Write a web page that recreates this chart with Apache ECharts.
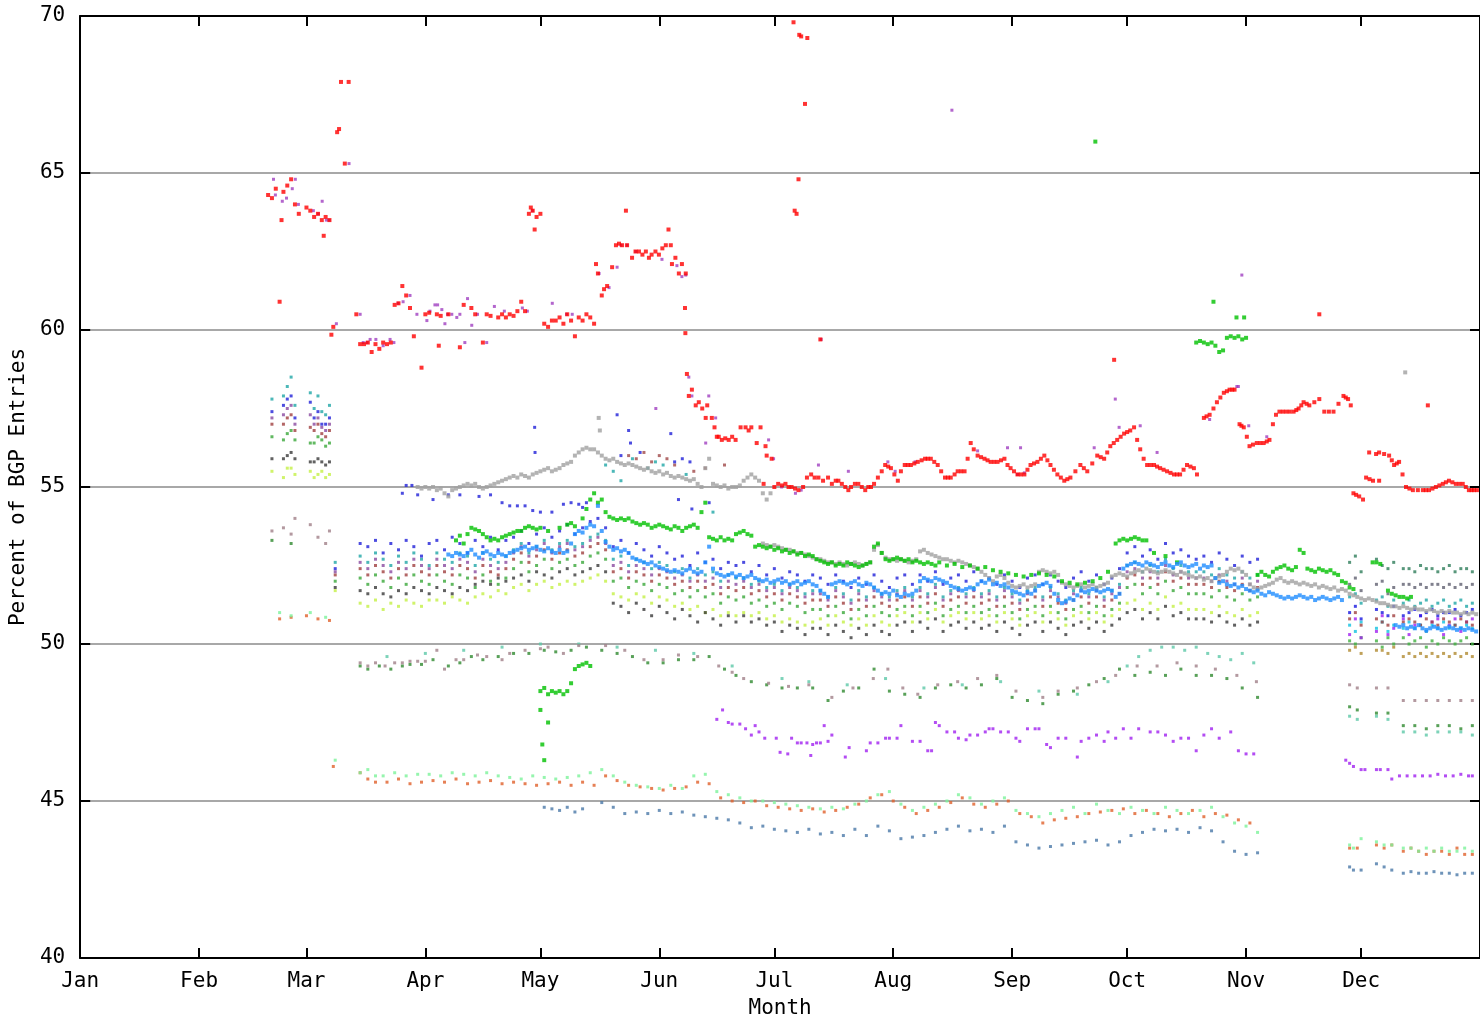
<!DOCTYPE html>
<html>
<head>
<meta charset="utf-8">
<script src="https://cdn.jsdelivr.net/npm/echarts@6/dist/echarts.min.js"></script>
<style>
html,body{margin:0;padding:0;background:#fff}
#chart{width:1480px;height:1024px}
</style>
</head>
<body>
<div id="chart"></div>
<script>
// ---- axes ----
const monthStarts = [0, 31, 59, 90, 120, 151, 181, 212, 243, 273, 304, 334];
const monthNames = ['Jan','Feb','Mar','Apr','May','Jun','Jul','Aug','Sep','Oct','Nov','Dec'];
const yTicks = [40, 45, 50, 55, 60, 65, 70];

// ---- main series: [day of year, percent] ----
const redPeer = [
[49,64.3],[50,64.2],[51,64.5],[52,60.9],[52.5,63.5],[53,64.4],[54,64.6],[55,64.8],[56,64.0],[57,63.7],[59,63.9],[60,63.8],[61,63.6],[62,63.7],[63,63.5],[63.5,63.0],[64,63.6],[65,63.5],[65.5,59.85],[66,60.1],[67,66.3],[67.5,66.4],[68,67.9],[69,65.3],[70,67.9],[72,60.5],
[73,59.55],[74,59.55],[75,59.6],[76,59.3],[77,59.55],[78,59.4],[79,59.6],[80,59.55],[81,59.6],
[82,60.8],[83,60.85],[84,61.4],[85,61.1],[86,60.7],[87,59.8],[89,58.8],[90,60.5],[91,60.55],[93,60.5],[93.5,59.5],[94,60.45],[96,60.5],[99,59.45],[100,60.8],[102,60.7],[103,60.5],[105,59.6],[106,60.5],[107,60.45],[109,60.4],[110,60.5],[111,60.4],[112,60.5],[113,60.45],[114,60.6],[115,60.9],[116,60.6],
[117,63.7],[117.5,63.9],[118,63.8],[118.5,63.2],[119,63.6],[120,63.7],
[121,60.2],[122,60.1],[123,60.3],[124,60.3],[125,60.4],[126,60.2],[127,60.5],[128,60.3],[129,59.8],[130,60.4],[131,60.3],[132,60.5],[133,60.4],[134,60.2],
[134.5,62.1],[135,61.8],[136,61.1],[136.6,61.3],[137.4,61.4],[138.7,62.0],[139.7,62.7],[140.5,62.75],[141.3,62.7],[142.3,63.8],[142.6,62.7],[143.9,62.3],[144.8,62.5],[145.7,62.5],[146.6,62.4],[147.5,62.5],[148.3,62.3],[149,62.4],[150,62.5],[150.9,62.4],[151.8,62.6],[152.7,62.7],[153.4,63.2],[154,62.7],[154.3,62.1],[155.2,62.3],[156.1,61.8],[156.9,62.1],[157.9,61.8],[157.7,60.7],[157.8,59.9],
[158.2,58.6],[158.7,57.9],[159.5,58.1],[160.5,57.6],[161.3,57.7],[162.2,57.5],[163.1,57.2],[163.5,57.6],[164.7,57.2],[165.4,56.9],[166,56.6],[166.5,56.6],[167.3,56.5],[168.2,56.55],[169.1,56.5],[170,56.6],[170.9,56.5],[172.2,56.9],[173.5,56.9],[174.3,56.8],[175,56.9],[176.4,56.4],[177.4,56.9],[178.2,55.1],[178.7,56.3],[179,56.0],[180.3,55.9],[181,55.0],[182,55.1],[183,55.05],[183.9,55.1],[184.7,55.0],[185.5,55.0],[186.4,54.95],[187.3,54.9],
[186,69.8],[187.5,69.4],[188,69.35],[189.6,69.3],[189,67.2],[187.3,64.8],[186.3,63.8],[186.8,63.7],[193,59.7],
[188.5,55.0],[189.5,55.3],[190.6,55.4],[191.5,55.3],[192.5,55.3],[193.7,55.2],[195,55.3],[196,55.1],[197,55.2],[197.7,55.2],[198.6,55.1],[199.5,55.0],[200.3,54.9],[201,55.0],[202,55.1],[202.9,55.1],[203.8,55.0],[204.7,54.9],[205.5,55.0],[206.2,55.0],[207,55.1],[208,55.3],[209,55.5],[209.9,55.7],[210.7,55.65],[211.4,55.6],[212.3,55.4],[213.2,55.2],[214,55.5],[215,55.7],[215.8,55.7],[216.6,55.7],[217.5,55.75],[218.4,55.8],[219.4,55.85],[220.3,55.9],[221,55.9],[221.8,55.9],[222.7,55.8],[223.6,55.7],[224.5,55.5],[225.5,55.3],[226.3,55.3],[227,55.3],[228,55.4],[228.8,55.5],[229.7,55.5],[230.6,55.5],[231.4,55.9],[232.2,56.4],[233,56.2],[234,56.0],[234.9,55.95],[235.8,55.9],[236.6,55.85],[237.4,55.8],[238.3,55.8],[239.2,55.8],[240.1,55.85],[241,55.9],[241.8,55.7],[242.6,55.6],[243.5,55.5],[244.4,55.4],[245.3,55.4],[246.2,55.4],[247,55.55],[247.8,55.7],[248.7,55.75],[249.6,55.8],[250.5,55.9],[251.4,56.0],[252.2,55.85],[253,55.7],[253.9,55.55],[254.8,55.4],[255.7,55.3],[256.6,55.2],[257.4,55.25],[258.2,55.3],[259.5,55.5],[260.8,55.7],[261.7,55.6],[262.6,55.5],[263.9,55.75],[265.2,56.0],[266.1,55.95],[267,55.9],[267.8,56.1],[268.6,56.3],[269.5,56.4],[270.4,56.5],[271.3,56.6],[272.2,56.7],[273,56.75],[273.8,56.8],[274.8,56.9],[275.6,56.5],[276.4,56.2],[277.3,55.9],[278.2,55.7],[279.1,55.7],[280,55.7],[280.8,55.65],[281.6,55.6],[282.5,55.55],[283.4,55.5],[284.3,55.45],[285.2,55.4],[286,55.4],[286.8,55.4],[287.7,55.55],[288.6,55.7],[289.5,55.65],[290.4,55.6],[291.2,55.4],
[269.6,59.05],
[293,57.2],[293.7,57.25],[294.5,57.3],[295.5,57.5],[296.4,57.7],[297.3,57.85],[298.2,58.0],[299,58.05],[299.7,58.1],[300.4,58.1],[301,58.1],[302.3,57.0],[302.8,56.95],[303.4,56.9],[304.2,56.6],[304.9,56.3],[305.8,56.35],[306.8,56.4],[307.7,56.4],[308.6,56.4],[309.4,56.45],[310.1,56.5],[311,57.0],[311.8,57.3],[312.7,57.4],[313.6,57.4],[314.5,57.4],[315.4,57.4],[316.4,57.4],[317.1,57.45],[317.7,57.5],[318.4,57.6],[319,57.7],[319.8,57.65],[320.5,57.6],[321.8,57.7],[323.1,57.8],[323.1,60.5],[324.4,57.4],[325.6,57.4],[326.8,57.4],[328.1,57.65],[329.4,57.9],[330,57.85],[330.6,57.8],[331.3,57.6],[332,54.8],[332.7,54.75],[333.5,54.7],[334.5,54.6],[335.3,55.3],[336.1,56.1],[336.2,55.25],[337.1,55.2],[337.9,56.05],[338.7,55.2],[338.7,56.1],[340,56.05],[341.3,56.0],[342,55.85],[342.6,55.7],[343.3,55.75],[343.9,55.8],[344.8,55.4],[345.7,55.0],[346.6,54.95],[347.5,54.9],[348.8,54.9],[350.1,54.9],[350.9,54.9],[351.4,57.6],[351.7,54.9],[352.6,54.95],[353.5,55.0],[354.4,55.05],[355.3,55.1],[356.1,55.15],[356.9,55.2],[357.8,55.15],[358.7,55.1],[359.6,55.1],[360.5,55.1],[361.3,55.0],[362.1,54.9],[362.8,54.9],[363.4,54.9],[364.2,54.9]
];

const magentaPeer = [
[50.4,64.8],[50.9,64.3],[52.7,64.1],[53.8,64.2],[55.3,64.5],[56.1,64.8],[56.9,64.0],[60.8,63.8],[62.1,63.7],[63.1,64.1],[64.2,63.5],[64.9,63.5],[66.8,60.2],[70.1,65.3],[73,60.5],[73.8,59.6],[74.8,59.6],[75.6,59.7],[77.1,59.7],[79,59.5],[80.8,59.7],[81.8,59.6],[82.9,60.85],[84.2,60.9],[86,61.1],[87.8,60.5],[90.4,60.3],[91.2,60.6],[92.5,60.8],[93.2,60.8],[94.3,60.65],[95.1,60.2],[95.8,60.5],[96.9,60.5],[98.2,60.4],[99,60.5],[100.3,59.6],[101,61.0],[102.1,60.15],[103.6,60.5],[106,59.6],[108,60.75],[110.6,60.6],[115.3,60.7],[116.6,60.6],[117.9,63.8],[123.1,60.85],[126.8,60.5],[128.3,60.5],[135.3,61.8],[137.9,61.35],[140,62.0],[141,62.7],[142.6,62.7],[144.9,62.5],[151.7,62.25],[155.6,62.05],[156.9,61.7],[157.9,61.75],[158.7,58.5],[159.5,57.9],[163.9,57.9],[163.1,56.4],[150.1,57.5],[165.7,57.2],[179.5,56.5],[180.8,55.9],[182.9,55.0],[186.5,54.8],[188,54.9],[192.5,55.7],[193.2,59.7],[200.3,55.5],[210.6,55.8],[212.5,55.5],[217.7,55.8],[227.3,67.0],[234,56.15],[241.8,56.25],[244.4,55.4],[245.2,56.25],[246.2,55.45],[264.4,56.25],[269.9,57.8],[270.9,56.9],[276.4,56.95],[280.8,56.1],[294.5,57.15],[301.6,58.2],[302,58.2],[302.9,61.75],[304.7,56.95],[309.4,56.6]
];

const grayPeer = [
[88,55.0],[89,54.95],[90,55.0],[91,54.95],[92,55.0],[93,54.9],[94,54.95],[95,54.8],[96,54.7],[97,54.9],[98,54.95],[99,55.0],[100,55.05],[101,55.1],[102,55.05],[103,55.1],[104,55.0],[105,54.95],[106,55.0],[107,55.05],[108,55.1],[109,55.15],[110,55.2],[111,55.25],[112,55.3],[113,55.35],[114,55.3],[115,55.4],[116,55.35],[117,55.3],[118,55.4],[119,55.45],[120,55.5],[121,55.55],[122,55.6],[123,55.5],[124,55.55],[125,55.6],[126,55.7],[127,55.75],[128,55.8],[129,56.0],[130,56.1],[131,56.2],[132,56.25],[133,56.2],[134,56.2],[135,56.1],[135.2,57.2],[135.5,56.8],[136,56.0],[137,55.9],[138,55.85],[139,55.9],[140,55.8],[141,55.75],[142,55.7],[143,55.75],[144,55.7],[145,55.65],[146,55.6],[147,55.55],[148,55.6],[149,55.5],[150,55.45],[151,55.5],[152,55.4],[153,55.45],[154,55.35],[155,55.3],[156,55.35],[157,55.3],[158,55.25],[159,55.2],[160,55.25],[161,55.1],[162,55.0],[163,55.6],[164,55.9],[165,55.1],[166,55.05],[167,55.0],[168,55.05],[169,54.95],[170,55.0],[171,55.0],[172,55.05],[173,55.2],[174,55.3],[175,55.4],[176,55.3],[177,55.2],[178,54.8],[179,54.6],[180,54.8],
[178,53.2],[179,53.15],[180,53.1],[181,53.15],[182,53.1],[183,53.05],[184,53.0],[185,53.0],[186,52.95],[187,52.9],[188,52.9],[189,52.85],[190,52.8],[191,52.75],[192,52.7],[193,52.7],[194,52.65],[195,52.6],[196,52.6],[197,52.55],[198,52.6],[199,52.55],[200,52.5],[201,52.55],[202,52.6],[203,52.55],[204,52.5],[205,52.55],[206,52.6],[207,53.0],[208,53.15],[209,52.9],[210,52.75],[211,52.7],[212,52.7],[213,52.65],[214,52.7],[215,52.65],[216,52.6],[217,52.65],[218,52.7],[219,52.95],[220,53.0],[221,52.9],[222,52.85],[223,52.8],[224,52.75],[225,52.7],[226,52.7],[227,52.65],[228,52.6],[229,52.65],[230,52.6],[231,52.55],
[232,52.5],[233,52.45],[234,52.4],[235,52.3],[236,52.2],[237,52.1],[238,52.0],[239,52.15],[240,52.2],[241,52.1],[242,51.95],[243,51.85],[244,51.8],[245,51.85],[246,51.9],[247,51.8],[248,51.85],[249,51.9],[250,52.3],[251,52.35],[252,52.3],[253,52.25],[254,52.3],[255,52.2],[256,51.95],[257,51.9],[258,51.85],[259,51.8],[260,51.85],[261,51.9],[262,51.8],[263,51.85],[264,51.9],[265,51.8],[266,51.85],[267,51.9],[268,51.95],[269,52.15],[270,52.2],[271,52.25],[272,52.2],[273,52.15],[274,52.25],[275,52.3],[276,52.35],[277,52.3],[278,52.4],[279,52.35],[280,52.3],[281,52.25],[282,52.3],[283,52.35],[284,52.3],[285,52.25],[286,52.2],[287,52.3],[288,52.25],[289,52.2],[290,52.15],[291,52.1],[292,52.15],[293,52.05],[294,52.1],[295,52.0],[296,52.1],[297,52.15],[298,52.2],[299,52.3],[300,52.4],[301,52.35],[302,52.4],[303,52.3],[304,52.2],[305,51.9],[306,51.8],[307,51.75],[308,51.8],[309,51.85],[310,51.9],[311,51.95],[312,52.05],[313,52.1],[314,52.0],[315,51.95],[316,52.0],[317,51.95],[318,51.9],[319,51.95],[320,51.9],[321,51.85],[322,51.9],[323,51.8],[324,51.85],[325,51.8],[326,51.75],[327,51.8],[328,51.7],[329,51.75],[330,51.7],[331,51.6],[332,51.55],[333,51.5],[334,51.45],[335,51.4],[336,51.45],[337,51.4],[338,51.35],[339,51.3],[340,51.3],[341,51.25],[342,51.2],[343,51.2],[344,51.15],[345,51.2],[345.5,58.65],[346,51.15],[347,51.1],[348,51.15],[349,51.1],[350,51.1],[351,51.05],[352,51.1],[353,51.05],[354,51.0],[355,51.05],[356,51.0],[357,51.05],[358,51.0],[359,51.0],[360,50.95],[361,51.0],[362,50.95],[363,51.0],[364,50.95]
];

const greenPeer = [
[98,53.3],[99,53.45],[100,53.2],[101,53.5],[102,53.7],[103,53.65],[104,53.6],[105,53.5],[106,53.4],[107,53.3],[108,53.35],[109,53.3],[110,53.4],[111,53.45],[112,53.5],[113,53.55],[114,53.6],[115,53.6],[116,53.7],[117,53.75],[118,53.7],[119,53.65],[120,53.7],[122,53.6],[125,53.7],[127,53.8],[128,53.85],[129,53.75],
[131,54.0],[132,54.3],[133,54.6],[134,54.8],[135,54.5],[136,54.6],[137,54.2],
[138,54.05],[139,54.0],[140,53.95],[141,54.0],[142,53.95],[143,54.0],[144,53.9],[145,53.85],[146,53.8],[147,53.85],[148,53.8],[149,53.7],[150,53.75],[151,53.8],[152,53.75],[153,53.7],[154,53.65],[155,53.75],[156,53.7],[157,53.6],[158,53.7],[159,53.75],[160,53.8],[161,53.7],[162,54.2],[163,54.5],[164,53.4],[165,53.35],[166,53.3],[167,53.4],[168,53.3],[169,53.35],[170,53.3],[171,53.5],[172,53.55],[173,53.6],[174,53.5],[175,53.45],
[176,53.1],[177,53.15],[178,53.1],[179,53.05],[180,53.1],[181,53.0],[182,53.05],[183,52.95],[184,53.0],[185,52.9],[186,52.95],[187,52.85],[188,52.9],[189,52.8],[190,52.85],[191,52.8],[192,52.7],[193,52.65],[194,52.6],[195,52.55],[196,52.6],[197,52.5],[198,52.55],[199,52.5],[200,52.6],[201,52.55],[202,52.5],[203,52.45],[204,52.5],[205,52.55],[206,52.6],[207,53.1],[208,53.2],[209,52.9],[210,52.7],[211,52.65],[212,52.7],[213,52.75],[214,52.7],[215,52.65],[216,52.7],[217,52.6],[218,52.65],[219,52.6],[220,52.55],[221,52.6],[222,52.55],[223,52.5],[224,52.6],[226,52.5],[228,52.55],[230,52.45],[232,52.5],[234,52.4],[236,52.45],[238,52.35],[240,52.3],[242,52.25],[244,52.2],[246,52.15],[248,52.2],[250,52.25],[252,52.2],[254,52.15],[256,52.0],[258,51.95],[260,51.9],[262,51.95],[264,52.0],[264.7,66.0],[266,52.1],[268,52.3],[270,53.2],[271,53.3],[272,53.35],[273,53.3],[274,53.35],[275,53.4],[276,53.35],[277,53.3],[278,53.3],[280,52.9],[283,52.8],[286,52.6],
[291,59.6],[292,59.65],[293,59.6],[294,59.55],[295,59.6],[295.5,60.9],[296,59.5],[297,59.3],[298,59.35],[299,59.75],[300,59.8],[301,59.75],[301.5,60.4],[302,59.8],[303,59.7],[303.5,60.4],[304,59.75],
[307,52.2],[308,52.3],[309,52.2],[310,52.15],[311,52.3],[312,52.4],[313,52.45],[314,52.5],[315,52.4],[316,52.35],[317,52.45],[318,53.0],[319,52.9],[320,52.4],[321,52.35],[322,52.3],[323,52.4],[324,52.35],[325,52.3],[326,52.35],[327,52.25],[328,52.2],[329,52.0],[330,51.95],[331,51.8],[332,51.75],
[337,52.6],[338,52.6],[339,52.55],[341,51.7],[342,51.6],[343,51.55],[344,51.5],[345,51.5],[346,51.45],[347,51.5],
[120,48.5],[121,48.6],[122,48.4],[123,48.5],[124,48.45],[125,48.5],[126,48.4],[127,48.5],[128,48.75],[129,49.2],[130,49.3],[131,49.35],[132,49.4],[133,49.3],[120,47.9],[122,47.5],[120.5,46.8],[121,46.3]
];

const bluePeer = [
[96,52.85],[97,52.8],[98,52.9],[99,52.85],[100,52.8],[101,52.9],[102,53.0],[103,52.85],[104,52.75],[105,52.9],[106,52.95],[107,52.85],[108,52.8],[109,52.9],[110,52.85],[111,52.8],[112,52.9],[113,52.95],[114,53.0],[115,53.05],[116,53.1],[117,53.0],[118,53.05],[119,53.1],[120,53.0],[121,52.95],[122,53.05],[123,52.95],[124,52.9],[125,53.0],[126,52.9],[127,52.95],[128,53.2],[129,53.5],[130,53.6],[131,53.55],[132,53.7],[133,53.8],[134,53.75],[135,54.4],[136,53.6],[137,53.25],[138,53.1],[139,53.0],[140,53.05],[141,52.95],[142,53.0],[143,52.9],[144,52.75],[145,52.7],[146,52.65],[147,52.6],[148,52.55],[149,52.6],[150,52.5],[151,52.45],[152,52.4],[153,52.35],[154,52.3],[155,52.35],[156,52.3],[157,52.25],[158,52.35],[159,52.4],[160,52.3],[161,52.25],[162,52.3],[163,52.6],[164,53.1],[165,52.4],[166,52.25],[167,52.2],[168,52.15],[169,52.2],[170,52.25],[171,52.15],[172,52.2],[173,52.1],[174,52.15],[175,52.2],[176,52.1],[177,52.05],[178,52.0],[179,52.05],[180,51.95],[181,52.0],[182,52.05],[183,51.95],[184,52.0],[185,51.9],[186,51.95],[187,52.0],[188,51.9],[189,51.95],[190,52.0],[191,51.9],[192,51.85],[193,51.7],[194,51.6],[195,51.5],[196,51.9],[197,51.95],[198,52.0],[199,51.95],[200,51.9],[201,51.95],[202,52.0],[203,51.9],[204,51.85],[205,51.95],[206,51.9],[207,51.8],[208,51.7],[209,51.6],[210,51.65],[211,51.6],[212,51.7],[213,51.55],[214,51.5],[215,51.6],[216,51.55],[217,51.6],[218,51.7],[219,52.0],[220,52.1],[221,52.05],[222,52.0],[223,52.1],[224,52.05],[225,52.0],[226,51.95],[227,51.85],[228,51.8],[229,51.75],[230,51.7],[231,51.75],[232,51.8],[233,51.75],[234,51.9],[235,52.0],[236,51.95],[237,52.05],[238,51.9],[239,51.95],[240,51.85],[241,51.9],[242,51.8],[243,51.7],[244,51.65],[245,51.6],[246,51.55],[247,51.65],[248,51.6],[249,51.7],[250,51.85],[251,51.9],[252,51.95],[253,51.85],[254,51.6],[255,51.4],[256,51.3],[257,51.35],[258,51.45],[259,51.4],[260,51.55],[261,51.7],[262,51.65],[263,51.7],[264,51.75],[265,51.7],[266,51.65],[267,51.7],[268,51.75],[269,51.7],[270,51.5],[271,51.6],[272,52.4],[273,52.5],[274,52.55],[275,52.6],[276,52.55],[277,52.5],[278,52.6],[279,52.55],[280,52.5],[281,52.45],[282,52.55],[283,52.6],[284,52.5],[285,52.45],[286,52.55],[287,52.6],[288,52.5],[289,52.45],[290,52.5],[291,52.55],[292,52.4],[293,52.5],[294,52.45],[295,52.5],[296,52.1],[297,51.95],[298,52.0],[299,51.9],[300,51.85],[301,51.9],[302,51.8],[303,51.85],[304,51.75],[305,51.7],[306,51.65],[307,51.7],[308,51.6],[309,51.55],[310,51.65],[311,51.6],[312,51.55],[313,51.5],[314,51.45],[315,51.5],[316,51.45],[317,51.5],[318,51.55],[319,51.5],[320,51.45],[321,51.5],[322,51.4],[323,51.45],[324,51.5],[325,51.45],[326,51.4],[327,51.45],[328,51.5],[329,51.4],
[343,50.6],[344,50.55],[345,50.6],[346,50.5],[347,50.55],[348,50.5],[349,50.6],[350,50.5],[351,50.45],[352,50.5],[353,50.55],[354,50.5],[355,50.45],[356,50.5],[357,50.55],[358,50.5],[359,50.45],[360,50.5],[361,50.45],[362,50.5],[363,50.45],[364,50.4]
];

const navyPeer = [
[84,54.8],[85,55.05],[86.5,55.05],[88,54.75],[92,54.6],[96,54.75],[99,54.75],[104,54.7],[107,54.75],[110,54.5],[112,54.4],[114,54.4],[116,54.4],[118,54.25],[118.5,56.9],[118.6,56.1],[120,54.2],[123,54.2],[126,54.45],[128,54.5],[130,54.45],[131,54.35],[132,54.5],[140,57.3],[141,56.0],[143,56.8],[143.5,56.4],[146,56.1],[154,56.7],[155,55.8],[156,54.6],[157,55.9],[159,55.8],[159.5,54.3],[164,54.5]
];

const brownScatter = [[143,56.0],[145,55.9],[147,56.1],[149,55.8],[151,56.0],[153,55.9],[155,55.7],[160,55.5],[163,55.6],[168,55.7]];
const tealScatter = [[137,55.7],[139,55.5],[141,55.2],[144,55.9],[148,55.6],[150,55.8],[152,55.7],[158,55.4],[165,54.2]];

// ---- lower bands ----
const mauvePeer = [
[50,53.6],[53,53.7],[55,53.5],[56,54.0],[60,53.8],[62,53.4],[64,53.2],[65,53.6],
[73,49.4],[75,49.3],[77,49.4],[79.5,49.3],[82,49.4],[84,49.4],[86,49.45],[88,49.45],[90,49.45],[93,49.8],[95,49.2],[98,49.5],[100,49.5],[103.6,49.65],[106,49.6],[110,49.5],[112,49.7],[116,49.8],[120,49.85],[122,49.9],[126,49.7],[130,49.95],[137,49.95],[142,49.8],[147,49.5],[152,49.5],[156,49.65],[161,49.6],[166.5,49.3],[170,49.1],[173,48.9],[179.5,48.75],[184.7,48.65],[190,48.7],[196,48.3],[201.5,48.6],[206.8,48.9],[210.6,49.2],[214.5,48.6],[218.4,48.4],[223.6,48.7],[228.8,48.8],[234,48.9],[239,49.0],[244,48.5],[251,48.3],[255,48.5],[260,48.6],[265,48.8],[270,49.0],[275.6,49.3],[280.8,49.3],[286,49.4],[291,49.3],[296,49.2],[301.6,49.0],[306.7,48.8],
[331,48.7],[333,48.6],[338,48.6],[341,48.6],[345,48.2],[348,48.2],[351,48.2],[354,48.2],[357,48.2],[360,48.2],[363,48.2]
];
const forestPeer = [
[50,53.3],[55,53.2],
[73,49.3],[75,49.2],[78,49.3],[81,49.2],[84,49.3],[86,49.35],[89,49.35],[92,49.5],[96,49.3],[99,49.4],[102,49.6],[105,49.5],[109,49.6],[113,49.7],[117,49.7],[121,49.8],[124,49.75],[128,49.8],[132,49.9],[136,49.8],[140,49.7],[144,49.6],[148,49.4],[152,49.4],[156,49.5],[160,49.5],[164,49.6],[168,49.2],[171,49.0],[175,48.8],[179,48.7],[183,48.6],[187,48.6],[191,48.6],[195,48.2],[199,48.5],[203,48.6],[207,49.2],[211,48.5],[215,48.4],[219,48.3],[223,48.6],[227,48.7],[231,48.6],[235,48.7],[239,48.9],[243,48.3],[247,48.2],[251,48.1],[255,48.4],[259,48.5],[263,48.7],[267,48.9],[271,49.2],[275,49.0],[279,49.1],[283,49.0],[287,49.2],[291,49.0],[295,49.0],[299,48.9],[303,48.6],[307,48.3],
[331,48.0],[333,47.9],[338,47.8],[341,47.8],[345,47.4],[348,47.4],[351,47.3],[354,47.4],[357,47.4],[360,47.3],[363,47.4]
];
const aquaPeer = [
[80,49.6],[90,49.7],[100,49.8],[110,49.9],[120,50.0],[130,50.0],[140,49.9],[150,49.8],[160,49.7],[170,49.3],
[183,48.9],[190,48.8],[200,48.7],[210,48.9],[220,48.6],[230,48.7],[240,48.8],[250,48.5],[260,48.4],[268,48.8],
[273,49.3],[276,49.6],[279,49.8],[282,49.9],[285,49.9],[288,49.8],[291,49.9],[294,49.7],[297,49.6],[300,49.5],[303,49.7],[306,49.4],
[331,47.7],[333,47.6],[338,47.7],[341,47.6],[345,47.2],[348,47.2],[351,47.1],[354,47.2],[357,47.2],[360,47.2],[363,47.1]
];
const violetPeer = [
[166,47.6],[167.5,47.9],[169,47.5],[170,47.45],[172,47.45],[173.5,47.3],[175,47.1],[176,47.4],[177,47.2],[178.5,47.0],[181.5,47.0],[182.5,46.55],[184.5,46.5],[185.5,47.0],[187,46.85],[188,46.85],[189.5,46.85],[190.5,46.45],[191,46.8],[192,46.85],[193,46.85],[194,47.4],[195,46.9],[196,47.1],[199.5,46.4],[200.5,46.7],[205,46.6],[206,46.85],[208,46.85],[210,47.0],[211,47.0],[213,47.0],[214,47.4],[217,46.9],[219,46.9],[221,46.6],[222,46.6],[223,47.5],[224,47.4],[226,47.2],[228,47.2],[229,47.0],[231,46.95],[232,47.1],[234,47.1],[236,47.2],[237,47.3],[238,47.3],[240,47.2],[242,47.2],[244,47.0],[245,46.9],[247,47.3],[249,47.3],[250,47.3],[252,46.8],[253,46.7],[255,47.0],[257,47.0],[260,46.4],[261,46.9],[263,47.0],[265,47.1],[267,46.9],[268,47.2],[270,47.0],[272,47.3],[274,47.0],[276,47.3],[279,47.2],[281,47.2],[283,47.1],[285,46.9],[287,47.0],[289,47.0],[291,46.6],[293,47.1],[295,47.3],[297,47.0],[300,47.2],[302,46.6],[304,46.5],[306,46.5],
[330,46.3],[331,46.2],[332,46.1],[334,46.0],[335,46.0],[338,46.0],[339,46.0],[341,46.0],[342,45.7],[344,45.8],[346,45.8],[348,45.8],[350,45.8],[352,45.8],[354,45.85],[356,45.8],[358,45.8],[360,45.85],[362,45.8],[363,45.8]
];
const mintPeer = [
[52,51.0],[55,50.9],[60,51.0],[64,50.85],[66.5,46.3],
[73,45.9],[75,46.0],[77,45.8],[79,45.8],[82,45.9],[85,45.8],[88,45.85],[91,45.85],[94,45.8],[97,45.9],[100,45.85],[103,45.8],[106,45.9],[109,45.8],[112,45.75],[115,45.7],[118,45.8],[121,45.75],[124,45.7],[127,45.75],[130,45.8],[133,45.9],[136,46.0],[139,45.8],[142,45.6],[145,45.5],[148,45.45],[151,45.4],[154,45.5],[157,45.4],[160,45.8],[163,45.85],[166,45.3],[169,45.2],[172,45.1],[175,45.0],[178,45.0],[181,44.95],[184,44.9],[187,44.85],[190,44.8],[193,44.75],[196,44.8],[199,44.75],[202,44.9],[205,45.0],[208,45.2],[211,45.3],[214,44.9],[217,44.7],[220,44.8],[223,44.9],[226,45.0],[229,45.2],[232,45.1],[235,44.9],[238,45.0],[241,45.1],[244,44.7],[247,44.6],[250,44.5],[253,44.6],[256,44.7],[259,44.8],[262,44.6],[265,44.9],[268,44.7],[271,44.6],[274,44.8],[277,44.7],[280,44.6],[283,44.8],[286,44.7],[289,44.6],[292,44.7],[295,44.8],[298,44.5],[301,44.3],[304,44.2],[307,44.0],
[331,43.6],[332,43.5],[334,43.8],[338,43.7],[340,43.6],[342,43.6],[345,43.5],[347,43.5],[349,43.4],[351,43.5],[353,43.4],[355,43.5],[357,43.4],[359,43.4],[361,43.5],[363,43.4]
];
const orangePeer = [
[52,50.8],[55,50.85],[59,50.9],[62,50.8],[65,50.75],[66,46.1],
[73,45.9],[75,45.7],[77,45.6],[80,45.6],[83,45.7],[86,45.55],[89,45.6],[92,45.65],[95,45.6],[98,45.7],[101,45.55],[104,45.6],[107,45.65],[110,45.55],[113,45.6],[116,45.55],[119,45.5],[122,45.55],[125,45.6],[128,45.5],[131,45.6],[134,45.5],[137,45.8],[140,45.65],[143,45.5],[146,45.45],[149,45.4],[152,45.35],[155,45.4],[158,45.45],[161,45.6],[164,45.55],[167,45.1],[170,45.0],[173,44.95],[176,45.0],[179,44.85],[182,44.8],[185,44.75],[188,44.7],[191,44.75],[194,44.65],[197,44.7],[200,44.8],[203,44.9],[206,45.1],[209,45.2],[212,45.0],[215,44.8],[218,44.6],[221,44.7],[224,44.8],[227,44.95],[230,45.1],[233,44.9],[236,44.8],[239,44.9],[242,45.0],[245,44.6],[248,44.5],[251,44.3],[254,44.4],[257,44.45],[260,44.5],[263,44.6],[266,44.65],[269,44.7],[272,44.75],[275,44.6],[278,44.7],[281,44.6],[284,44.5],[287,44.6],[290,44.7],[293,44.5],[296,44.6],[299,44.55],[302,44.4],[305,44.3],
[331,43.5],[333,43.5],[338,43.6],[340,43.5],[342,43.6],[345,43.4],[347,43.5],[349,43.4],[351,43.3],[353,43.4],[355,43.4],[357,43.3],[359,43.5],[361,43.3],[363,43.3]
];
const steelPeer = [
[121,44.8],[123,44.75],[125,44.7],[127,44.8],[129,44.65],[131,44.75],[136,44.95],[139,44.8],[142,44.6],[145,44.65],[148,44.6],[151,44.7],[154,44.6],[157,44.65],[160,44.55],[163,44.5],[166,44.45],[169,44.4],[172,44.3],[175,44.15],[178,44.2],[181,44.1],[184,44.05],[187,44.0],[190,44.1],[193,43.95],[196,44.0],[199,43.9],[202,44.1],[205,43.9],[208,44.2],[211,44.05],[214,43.8],[217,43.85],[220,43.9],[223,44.0],[226,44.1],[229,44.2],[232,44.05],[235,44.1],[238,44.0],[241,44.2],[244,43.7],[247,43.6],[250,43.5],[253,43.55],[256,43.6],[259,43.65],[262,43.7],[265,43.75],[268,43.6],[271,43.7],[274,43.9],[277,44.0],[280,44.1],[283,44.05],[286,44.1],[289,44.0],[292,44.15],[295,44.05],[298,43.7],[301,43.4],[304,43.3],[307,43.35],
[331,42.9],[332,42.8],[334,42.8],[338,43.0],[340,42.9],[342,42.8],[345,42.7],[347,42.75],[349,42.7],[351,42.7],[353,42.75],[355,42.7],[357,42.7],[359,42.65],[361,42.7],[363,42.7]
];

// ---- stacked per-peer columns (one reading every other day) ----
const colDays = [50,53,54,55,56,60,61,62,63,64,65,66.5,
73,75,77,79,81,83,85,87,89,91,
93,95,97,99,101,103,105,107,109,111,
113,115,117,119,121,123,125,127,129,131,
133,135,137,139,141,143,145,147,149,151,
153,155,157,159,161,163,165,167,169,171,
173,175,177,179,181,183,185,187,189,191,
193,195,197,199,201,203,205,207,209,211,
213,215,217,219,221,223,225,227,229,231,
233,235,237,239,241,243,245,247,249,251,
253,255,257,259,261,263,265,267,269,271,
273,275,277,279,281,283,285,287,289,291,
293,295,297,299,301,303,305,307];

const colNavy = [57.4,57.6,57.8,57.9,57.2,57.7,57.2,57.4,57.0,57.0,57.2,52.4,
53.2,53.1,53.3,52.9,53.2,53.0,53.3,53.1,52.8,53.2,
53.3,53.0,53.4,53.2,52.9,53.3,53.1,53.4,53.0,53.3,
53.4,53.6,53.2,53.5,53.7,53.4,53.6,53.8,53.5,53.7,
53.9,54.0,53.7,53.1,53.3,52.9,53.2,53.0,52.8,53.1,
52.9,52.7,52.8,52.5,52.9,52.6,52.7,52.4,52.6,52.5,
52.6,52.3,52.5,52.2,52.4,52.1,52.3,52.2,52.0,52.2,
52.1,51.9,52.2,52.0,51.8,52.1,51.9,52.2,52.0,51.8,
52.1,52.2,51.9,52.2,52.0,52.3,51.9,52.1,52.2,52.0,
52.3,52.0,52.1,51.9,52.2,52.0,51.8,52.1,52.2,51.9,
52.2,52.0,51.8,52.1,52.3,52.0,52.2,51.9,52.1,52.4,
52.9,53.1,52.8,53.0,52.7,53.2,52.9,53.0,52.8,52.7,
52.8,52.6,52.9,52.7,52.5,52.8,52.6,52.7];

const colTeal = [57.8,57.9,58.2,58.5,57.6,58.0,57.5,57.9,57.4,57.3,57.6,52.6,
52.8,52.6,52.9,52.7,52.5,52.8,52.6,52.9,52.7,52.5,
52.9,52.7,52.6,52.9,52.8,52.5,52.9,52.7,52.6,52.8,
53.0,53.2,52.9,53.1,53.3,53.0,53.2,53.3,53.1,53.2,
53.4,53.5,53.3,52.7,52.8,52.5,52.7,52.6,52.4,52.6,
52.5,52.3,52.4,52.1,52.4,52.2,52.3,52.0,52.2,52.1,
52.1,51.9,52.0,51.8,51.9,51.7,51.9,51.8,51.6,51.7,
51.7,51.5,51.8,51.6,51.4,51.7,51.5,51.8,51.6,51.5,
51.7,51.8,51.5,51.8,51.6,51.9,51.5,51.7,51.8,51.6,
51.8,51.6,51.7,51.5,51.8,51.6,51.4,51.7,51.8,51.5,
51.8,51.6,51.4,51.7,51.8,51.6,51.8,51.5,51.7,51.9,
52.5,52.6,52.3,52.5,52.3,52.7,52.4,52.5,52.3,52.3,
52.3,52.2,52.4,52.2,52.1,52.3,52.1,52.2];

const colPlum = [57.2,57.3,57.5,57.6,57.0,57.3,57.0,57.2,56.9,56.8,57.0,52.3,
52.6,52.4,52.7,52.5,52.3,52.6,52.4,52.7,52.5,52.4,
52.7,52.5,52.4,52.7,52.6,52.3,52.7,52.5,52.4,52.6,
52.9,53.1,52.8,53.0,53.2,52.9,53.1,53.2,53.0,53.1,
53.3,53.4,53.2,52.5,52.6,52.3,52.5,52.4,52.2,52.4,
52.3,52.1,52.2,52.0,52.2,52.0,52.1,51.8,52.0,51.9,
52.0,51.8,51.9,51.7,51.8,51.6,51.8,51.7,51.5,51.6,
51.6,51.4,51.7,51.5,51.3,51.6,51.4,51.7,51.5,51.4,
51.6,51.7,51.4,51.7,51.5,51.8,51.4,51.6,51.7,51.5,
51.7,51.5,51.6,51.4,51.7,51.5,51.3,51.6,51.7,51.4,
51.7,51.5,51.3,51.6,51.7,51.5,51.7,51.4,51.6,51.8,
52.3,52.4,52.1,52.3,52.1,52.5,52.2,52.3,52.1,52.1,
52.1,52.0,52.2,52.0,51.9,52.1,51.9,52.0];

const colMaroon = [57.0,57.0,57.2,57.3,56.8,56.9,56.8,57.0,56.7,56.6,56.8,52.2,
52.4,52.2,52.5,52.3,52.1,52.4,52.2,52.5,52.3,52.2,
52.5,52.3,52.2,52.5,52.4,52.1,52.5,52.3,52.2,52.4,
52.7,52.9,52.6,52.8,53.0,52.7,52.9,53.0,52.8,52.9,
53.1,53.2,53.0,52.3,52.4,52.1,52.3,52.2,52.0,52.2,
52.1,51.9,52.0,51.8,52.0,51.8,51.9,51.6,51.8,51.7,
51.8,51.6,51.7,51.5,51.6,51.4,51.6,51.5,51.3,51.4,
51.4,51.2,51.5,51.3,51.1,51.4,51.2,51.5,51.3,51.2,
51.4,51.5,51.2,51.5,51.3,51.6,51.2,51.4,51.5,51.3,
51.5,51.3,51.4,51.2,51.5,51.3,51.1,51.4,51.5,51.2,
51.5,51.3,51.1,51.4,51.5,51.3,51.5,51.2,51.4,51.6,
52.1,52.2,51.9,52.1,51.9,52.3,52.0,52.1,51.9,51.9,
51.9,51.8,52.0,51.8,51.7,51.9,51.7,51.8];

const colOlive = [56.6,56.5,56.7,56.8,56.5,56.4,56.4,56.6,56.5,56.3,56.4,52.0,
52.1,51.9,52.2,52.0,51.8,52.1,51.9,52.2,52.0,51.9,
52.2,52.0,51.9,52.2,52.1,51.8,52.2,52.0,51.9,52.1,
52.4,52.6,52.3,52.5,52.7,52.4,52.6,52.7,52.5,52.6,
52.8,52.9,52.7,52.0,52.1,51.8,52.0,51.9,51.7,51.9,
51.8,51.6,51.7,51.5,51.7,51.5,51.6,51.3,51.5,51.4,
51.5,51.3,51.4,51.2,51.3,51.1,51.3,51.2,51.0,51.1,
51.1,50.9,51.2,51.0,50.8,51.1,50.9,51.2,51.0,50.9,
51.1,51.2,50.9,51.2,51.0,51.3,50.9,51.1,51.2,51.0,
51.2,51.0,51.1,50.9,51.2,51.0,50.8,51.1,51.2,50.9,
51.2,51.0,50.8,51.1,51.2,51.0,51.2,50.9,51.1,51.3,
51.8,51.9,51.6,51.8,51.6,52.0,51.7,51.8,51.6,51.6,
51.6,51.5,51.7,51.5,51.4,51.6,51.4,51.5];

const colBlack = [55.9,55.9,56.0,56.1,55.9,55.8,55.8,55.9,55.8,55.7,55.8,51.8,
51.7,51.6,51.8,51.6,51.5,51.7,51.6,51.8,51.7,51.6,
51.8,51.7,51.6,51.8,51.7,51.9,52.0,51.9,52.1,52.0,
52.1,52.2,52.0,52.3,52.2,52.1,52.3,52.4,52.2,52.3,
52.4,52.5,52.3,51.3,51.2,51.0,51.3,51.1,50.9,51.2,
51.0,50.8,51.1,50.9,50.7,51.0,50.8,50.6,50.9,50.7,
50.9,50.7,50.8,50.6,50.7,50.4,50.6,50.5,50.3,50.5,
50.5,50.3,50.6,50.4,50.2,50.5,50.3,50.6,50.4,50.3,
50.6,50.7,50.4,50.7,50.5,50.8,50.4,50.6,50.7,50.5,
50.7,50.5,50.6,50.4,50.7,50.5,50.3,50.6,50.7,50.4,
50.7,50.5,50.3,50.6,50.7,50.5,50.7,50.4,50.6,50.8,
51.0,51.1,50.8,51.0,50.8,51.2,50.9,51.0,50.8,50.8,
50.8,50.7,50.9,50.7,50.6,50.8,50.6,50.7];

const colLime = [55.5,55.3,55.6,55.6,55.4,55.5,55.3,55.4,55.5,55.3,55.4,51.7,
51.3,51.2,51.4,51.1,51.3,51.2,51.4,51.3,51.2,51.4,
51.4,51.3,51.5,51.4,51.3,51.5,51.6,51.5,51.7,51.6,
51.8,51.9,51.7,51.9,52.0,51.8,51.9,52.0,51.9,52.0,
52.1,52.2,52.0,51.6,51.5,51.4,51.6,51.5,51.3,51.5,
51.4,51.2,51.3,51.1,51.2,51.0,51.1,50.9,51.0,50.9,
51.0,50.9,51.0,50.8,50.9,50.7,50.8,50.7,50.6,50.7,
50.8,50.6,50.9,50.7,50.6,50.8,50.6,50.9,50.7,50.6,
50.9,51.0,50.7,51.0,50.8,51.1,50.7,50.9,51.0,50.8,
51.0,50.8,50.9,50.7,51.0,50.8,50.6,50.9,51.0,50.7,
51.0,50.8,50.6,50.9,51.0,50.8,51.0,50.7,50.9,51.1,
51.3,51.4,51.1,51.3,51.1,51.5,51.2,51.3,51.1,51.1,
51.1,51.0,51.2,51.0,50.9,51.1,50.9,51.0];

// ---- December columns ----
const decDays = [331,332.5,334,338,339.5,341,342.5,345,346.5,348,349.5,351,352.5,354,355.5,357,358.5,360,361.5,363];
const decPine   = [52.6,52.8,52.3,52.7,52.5,52.4,52.6,52.4,52.4,52.3,52.5,52.4,52.4,52.3,52.4,52.5,52.3,52.4,52.4,52.3];
const decSlate  = [51.9,52.1,51.7,51.9,52.0,51.6,51.8,51.9,51.9,51.8,51.9,51.8,51.9,51.9,51.8,51.9,51.8,51.9,51.8,51.9];
const decTeal   = [51.5,51.6,51.3,51.4,51.5,51.2,51.4,51.3,51.4,51.2,51.3,51.4,51.2,51.3,51.4,51.2,51.3,51.4,51.2,51.3];
const decNavy   = [51.0,51.2,50.8,51.1,51.0,50.9,51.2,50.9,51.0,51.1,50.9,51.0,51.1,50.9,51.0,51.0,51.1,50.9,51.0,51.1];
const decMaroon = [50.8,51.0,50.6,50.8,50.7,50.6,50.9,50.7,50.8,50.7,50.6,50.8,50.7,50.6,50.8,50.7,50.6,50.8,50.7,50.6];
const decCyan   = [50.6,50.4,50.7,50.5,50.7,50.4,50.6,50.5,50.7,50.5,50.6,50.4,50.6,50.5,50.7,50.5,50.6,50.5,50.6,50.5];
const decPurple = [50.3,50.8,50.2,50.4,50.9,50.3,50.5,50.8,50.3,50.6,50.9,50.4,50.7,50.8,50.3,50.6,50.8,50.4,50.7,50.8];
const decGreen  = [50.1,50.0,50.2,50.1,49.9,50.2,50.0,50.2,50.0,50.1,50.2,49.9,50.1,50.0,50.2,50.1,50.0,50.1,50.2,50.0];
const decOchre  = [49.8,49.9,49.7,49.8,49.8,49.7,49.9,49.6,49.7,49.6,49.7,49.6,49.7,49.6,49.7,49.6,49.7,49.6,49.7,49.6];

// ---- build ----
function pair(days, vals) {
  const n = Math.min(days.length, vals.length);
  const out = [];
  for (let i = 0; i < n; i++) out.push([days[i], vals[i]]);
  return out;
}
function dots(name, color, data, size) {
  return {
    name: name, type: 'scatter', data: data,
    symbol: 'rect', symbolSize: size || 3,
    itemStyle: { color: color },
    silent: true, animation: false
  };
}

const FONT = "'DejaVu Sans Mono', 'Liberation Mono', monospace";
const FS = 21;

const series = [
  dots('steel', '#4a78a8', steelPeer),
  dots('orange', '#e0602a', orangePeer),
  dots('mint', '#7cf29a', mintPeer),
  dots('violet', '#a020f0', violetPeer),
  dots('aqua', '#5cc8a8', aquaPeer),
  dots('forest', '#2f8a2f', forestPeer),
  dots('mauve', '#a08088', mauvePeer),
  dots('lime', '#c4f046', pair(colDays, colLime)),
  dots('black', '#3a3a3a', pair(colDays, colBlack)),
  dots('olive', '#3aa83a', pair(colDays, colOlive)),
  dots('maroon', '#a04040', pair(colDays, colMaroon)),
  dots('plum', '#8a4aa0', pair(colDays, colPlum)),
  dots('teal', '#1fa6a6', pair(colDays, colTeal)),
  dots('navy', '#2020d8', pair(colDays, colNavy)),
  dots('decOchre', '#b08a30', pair(decDays, decOchre)),
  dots('decGreen', '#40b040', pair(decDays, decGreen)),
  dots('decPurple', '#a020f0', pair(decDays, decPurple)),
  dots('decCyan', '#10c0e0', pair(decDays, decCyan)),
  dots('decMaroon', '#a04040', pair(decDays, decMaroon)),
  dots('decNavy', '#1818e0', pair(decDays, decNavy)),
  dots('decTeal', '#1fa6a6', pair(decDays, decTeal)),
  dots('decSlate', '#606070', pair(decDays, decSlate)),
  dots('decPine', '#2e7d5a', pair(decDays, decPine)),
  dots('brownScatter', '#a04848', brownScatter),
  dots('tealScatter', '#1fa6a6', tealScatter),
  dots('navyScatter', '#2020d8', navyPeer),
  dots('gray', '#a0a0a0', grayPeer, 4),
  dots('green', '#00c000', greenPeer, 4),
  dots('blue', '#1e8cff', bluePeer, 4),
  dots('magenta', '#a040c0', magentaPeer),
  dots('red', '#ff0000', redPeer, 4)
];

const tickStyle = { show: true, inside: true, length: 10, lineStyle: { color: '#000', width: 2 } };
const lineStyle = { show: true, onZero: false, lineStyle: { color: '#000', width: 2 } };

const chart = echarts.init(document.getElementById('chart'), null, { renderer: 'canvas' });
chart.setOption({
  backgroundColor: '#ffffff',
  animation: false,
  grid: { left: 79, top: 16, width: 1406, height: 951, containLabel: false },
  xAxis: [
    {
      type: 'value', min: 0, max: 365, position: 'bottom',
      name: 'Month', nameLocation: 'middle', nameGap: 40,
      nameTextStyle: { fontFamily: FONT, fontSize: FS, color: '#000' },
      axisLine: lineStyle,
      axisTick: Object.assign({ customValues: monthStarts }, tickStyle),
      axisLabel: {
        customValues: monthStarts, margin: 13,
        fontFamily: FONT, fontSize: FS, color: '#000',
        formatter: function (v) { const i = monthStarts.indexOf(Math.round(v)); return i >= 0 ? monthNames[i] : ''; }
      },
      splitLine: { show: false }
    },
    {
      type: 'value', min: 0, max: 365, position: 'top',
      axisLine: lineStyle,
      axisTick: Object.assign({ customValues: monthStarts }, tickStyle),
      axisLabel: { show: false },
      splitLine: { show: false }
    }
  ],
  yAxis: [
    {
      type: 'value', min: 40, max: 70, interval: 5, position: 'left',
      name: 'Percent of BGP Entries', nameLocation: 'middle', nameGap: 47, nameRotate: 90,
      nameTextStyle: { fontFamily: FONT, fontSize: FS, color: '#000' },
      axisLine: lineStyle,
      axisTick: tickStyle,
      axisLabel: {
        margin: 15, fontFamily: FONT, fontSize: FS, color: '#000',
        formatter: function (v) { return yTicks.indexOf(v) >= 0 ? String(v) : ''; }
      },
      splitLine: { show: true, lineStyle: { color: '#a8a8a8', width: 2 } }
    },
    {
      type: 'value', min: 40, max: 70, interval: 5, position: 'right',
      axisLine: lineStyle,
      axisTick: tickStyle,
      axisLabel: { show: false },
      splitLine: { show: false }
    }
  ],
  series: series
});
</script>
</body>
</html>
